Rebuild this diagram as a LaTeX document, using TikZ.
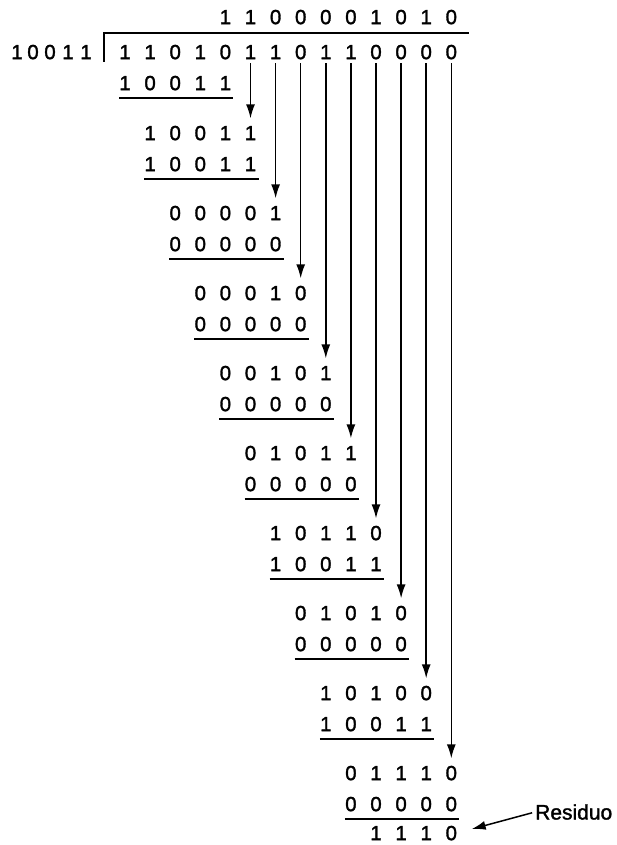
\documentclass[tikz,border=0pt]{standalone}
\usepackage{fontspec}
\setmainfont[FakeBold=1.5]{Liberation Sans}
\usetikzlibrary{arrows.meta}
\begin{document}
\begin{tikzpicture}[x=1pt,y=-1pt,
  dig/.style={inner sep=0pt,text height=14.3pt,text depth=0pt,font=\fontsize{20.5}{24}\selectfont},
  rule/.style={line width=1.5pt},
  carry/.style={line width=1.5pt,-{Latex[length=14pt,width=9pt]},shorten <=4pt,shorten >=7.3pt}]
\useasboundingbox (0,0) rectangle (616,845);
% divisor
\foreach \d [count=\i from 0] in {17,33,50,68,86}
  \node[dig] (dz\i) at (\d,52) {\ifnum\i=1 0\else\ifnum\i=2 0\else 1\fi\fi};
% quotient rule and bar
\draw[rule] (104,62) -- (104,33) -- (469,33);
% quotient
\foreach \d [count=\i from 4] in {1,1,0,0,0,0,1,0,1,0}
  \node[dig] (q\i) at ({125+25.1*\i},17) {\d};
% dividend
\foreach \d [count=\i from 0] in {1,1,0,1,0,1,1,0,1,1,0,0,0,0}
  \node[dig] (dv\i) at ({125+25.1*\i},52) {\d};
% first subtraction
\foreach \d [count=\j from 0] in {1,0,0,1,1}
  \node[dig] (s\j) at ({125+25.1*\j},83) {\d};
\draw[rule] (119,98) -- ++(114.4,0);
% blocks
\foreach \k/\a/\b in {1/{1,0,0,1,1}/{1,0,0,1,1},
                      2/{0,0,0,0,1}/{0,0,0,0,0},
                      3/{0,0,0,1,0}/{0,0,0,0,0},
                      4/{0,0,1,0,1}/{0,0,0,0,0},
                      5/{0,1,0,1,1}/{0,0,0,0,0},
                      6/{1,0,1,1,0}/{1,0,0,1,1},
                      7/{0,1,0,1,0}/{0,0,0,0,0},
                      8/{1,0,1,0,0}/{1,0,0,1,1},
                      9/{0,1,1,1,0}/{0,0,0,0,0}}{
  \pgfmathsetmacro\yt{133+80*(\k-1)}
  \foreach \d [count=\j from 0] in \a
    \node[dig] (top\k-\j) at ({125+25.1*(\k+\j)},\yt) {\d};
  \foreach \d [count=\j from 0] in \b
    \node[dig] (bot\k-\j) at ({125+25.1*(\k+\j)},\yt+31) {\d};
  \draw[rule] ({125+25.1*\k-6},\yt+46) -- ++(114.4,0);
  \pgfmathtruncatemacro\c{\k+4}
  \draw[carry] (dv\c.south) -- (top\k-4.north);
}
% remainder
\foreach \d [count=\j from 0] in {1,1,1,0}
  \node[dig] (f\j) at ({125+25.1*(10+\j)},833) {\d};
\node[anchor=west,inner sep=0pt,font=\fontsize{21}{24}\selectfont] (res) at (535,812) {Residuo};
\draw[carry,shorten <=3pt,shorten >=15pt] (res.west) -- (f3.east);
\end{tikzpicture}
\end{document}
